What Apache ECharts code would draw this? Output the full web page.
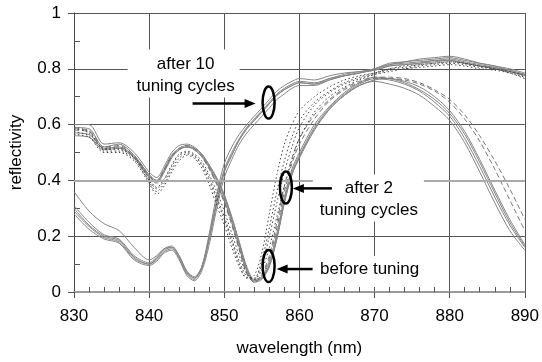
<!DOCTYPE html>
<html>
<head>
<meta charset="utf-8">
<script src="https://cdn.jsdelivr.net/npm/echarts@6/dist/echarts.min.js"></script>
<style>
  html, body { margin: 0; padding: 0; background: #fff; }
  #chart { width: 542px; height: 362px; }
</style>
</head>
<body>
<div id="chart"></div>
<script>
// wavelength samples (nm)
const wavelength = [830,832,834,836,838,840,841,842,843,844,845,846,847,848,849,850,851,852,853,854,855,856,857,858,859,860,862,864,866,868,870,872,874,876,878,880,882,884,886,888,890];

// after 10 tuning cycles (solid, blue-shifted)
const after10_1 = [0.36,0.29,0.245,0.22,0.16,0.115,0.13,0.155,0.16,0.13,0.075,0.05,0.085,0.19,0.32,0.43,0.49,0.545,0.585,0.615,0.645,0.675,0.705,0.725,0.74,0.75,0.745,0.765,0.775,0.785,0.80,0.815,0.825,0.83,0.835,0.84,0.83,0.82,0.81,0.795,0.78];
const after10_2 = [0.31,0.25,0.205,0.19,0.13,0.105,0.125,0.155,0.165,0.13,0.075,0.055,0.09,0.2,0.33,0.44,0.5,0.55,0.59,0.62,0.65,0.68,0.71,0.73,0.745,0.755,0.75,0.765,0.78,0.79,0.80,0.815,0.82,0.825,0.83,0.835,0.825,0.815,0.805,0.795,0.78];
const after10_3 = [0.30,0.24,0.20,0.185,0.125,0.10,0.12,0.15,0.16,0.125,0.07,0.05,0.09,0.21,0.35,0.46,0.52,0.565,0.60,0.63,0.66,0.69,0.72,0.74,0.755,0.765,0.76,0.775,0.785,0.79,0.795,0.81,0.815,0.82,0.83,0.83,0.82,0.81,0.805,0.79,0.775];
const after10_4 = [0.29,0.235,0.195,0.18,0.12,0.10,0.115,0.145,0.155,0.12,0.065,0.045,0.085,0.19,0.32,0.43,0.49,0.545,0.585,0.615,0.645,0.675,0.705,0.725,0.74,0.75,0.745,0.76,0.775,0.785,0.80,0.82,0.825,0.835,0.84,0.845,0.835,0.82,0.81,0.80,0.785];
const after10_5 = [0.28,0.225,0.19,0.175,0.115,0.095,0.11,0.14,0.15,0.115,0.06,0.04,0.075,0.17,0.30,0.41,0.475,0.53,0.57,0.60,0.63,0.66,0.69,0.71,0.73,0.74,0.74,0.76,0.775,0.785,0.795,0.81,0.815,0.82,0.825,0.83,0.82,0.81,0.80,0.79,0.78];

// dotted runs
const dotted_1 = [0.59,0.575,0.515,0.515,0.485,0.405,0.375,0.405,0.455,0.495,0.505,0.495,0.47,0.42,0.36,0.29,0.21,0.13,0.065,0.045,0.08,0.16,0.27,0.38,0.47,0.55,0.645,0.70,0.735,0.76,0.78,0.795,0.80,0.81,0.815,0.82,0.815,0.805,0.80,0.79,0.775];
const dotted_2 = [0.585,0.57,0.51,0.51,0.48,0.40,0.37,0.40,0.45,0.49,0.50,0.49,0.46,0.41,0.34,0.27,0.19,0.11,0.055,0.045,0.10,0.20,0.32,0.43,0.52,0.59,0.67,0.715,0.745,0.765,0.78,0.79,0.80,0.805,0.81,0.815,0.81,0.80,0.795,0.785,0.77];
const dotted_3 = [0.575,0.56,0.505,0.505,0.475,0.395,0.36,0.39,0.44,0.48,0.495,0.485,0.455,0.40,0.33,0.26,0.18,0.10,0.05,0.05,0.115,0.23,0.36,0.47,0.555,0.615,0.68,0.72,0.75,0.77,0.785,0.80,0.805,0.815,0.82,0.825,0.82,0.81,0.80,0.785,0.765];
const dotted_4 = [0.565,0.555,0.50,0.50,0.47,0.39,0.35,0.38,0.43,0.47,0.49,0.48,0.445,0.385,0.31,0.24,0.16,0.09,0.05,0.06,0.14,0.28,0.42,0.53,0.60,0.65,0.70,0.735,0.76,0.775,0.785,0.80,0.81,0.815,0.82,0.825,0.82,0.81,0.80,0.79,0.775];

// solid runs falling off past 870 nm
const solid_1 = [0.60,0.60,0.53,0.535,0.50,0.43,0.41,0.45,0.50,0.525,0.53,0.52,0.495,0.455,0.405,0.345,0.265,0.175,0.085,0.04,0.05,0.095,0.19,0.32,0.42,0.48,0.58,0.655,0.705,0.74,0.76,0.765,0.755,0.735,0.70,0.65,0.575,0.475,0.365,0.26,0.17];
const solid_2 = [0.59,0.585,0.52,0.53,0.49,0.42,0.40,0.44,0.49,0.515,0.525,0.515,0.49,0.45,0.40,0.34,0.26,0.17,0.08,0.04,0.05,0.10,0.20,0.33,0.43,0.49,0.59,0.66,0.71,0.745,0.765,0.76,0.745,0.72,0.68,0.63,0.55,0.45,0.34,0.24,0.16];
const solid_3 = [0.57,0.565,0.515,0.52,0.485,0.415,0.395,0.435,0.485,0.51,0.52,0.51,0.485,0.445,0.39,0.33,0.25,0.16,0.075,0.035,0.045,0.09,0.19,0.32,0.42,0.485,0.585,0.655,0.705,0.74,0.755,0.745,0.73,0.705,0.665,0.615,0.535,0.43,0.32,0.22,0.15];
const solid_4 = [0.56,0.555,0.51,0.515,0.48,0.41,0.39,0.43,0.48,0.51,0.52,0.515,0.495,0.455,0.41,0.35,0.27,0.18,0.09,0.045,0.055,0.11,0.21,0.34,0.44,0.50,0.60,0.665,0.715,0.75,0.77,0.765,0.75,0.725,0.69,0.64,0.565,0.465,0.355,0.25,0.165];

// dashed runs
const dashed_1 = [0.585,0.58,0.52,0.525,0.49,0.42,0.40,0.44,0.49,0.515,0.525,0.515,0.49,0.445,0.39,0.325,0.245,0.155,0.07,0.035,0.06,0.12,0.23,0.36,0.46,0.53,0.62,0.685,0.725,0.75,0.765,0.765,0.76,0.745,0.72,0.68,0.62,0.54,0.44,0.33,0.22];
const dashed_2 = [0.58,0.575,0.515,0.52,0.485,0.415,0.395,0.435,0.485,0.51,0.52,0.51,0.485,0.44,0.385,0.32,0.24,0.15,0.065,0.035,0.065,0.13,0.25,0.38,0.48,0.55,0.635,0.69,0.73,0.755,0.77,0.77,0.765,0.75,0.725,0.69,0.635,0.56,0.47,0.37,0.26];

// axis ticks
const xTicks = [830, 840, 850, 860, 870, 880, 890];
const yTicks = [0, 0.2, 0.4, 0.6, 0.8, 1];
const greyGridAt = 0.4;

const FONT = '"Liberation Sans", Arial, sans-serif';

function makeSeries(ys, color, type) {
    return {
        type: 'line',
        data: wavelength.map((w, i) => [w, ys[i]]),
        showSymbol: false,
        smooth: 0.3,
        silent: true,
        lineStyle: { color: color, width: 1, type: type }
    };
}

const series = [];
[after10_1, after10_2, after10_3, after10_4, after10_5].forEach(d => series.push(makeSeries(d, '#858585', 'solid')));
[solid_1, solid_2, solid_3, solid_4].forEach(d => series.push(makeSeries(d, '#858585', 'solid')));
[dashed_1, dashed_2].forEach(d => series.push(makeSeries(d, '#777', [5, 3])));
[dotted_1, dotted_2, dotted_3, dotted_4].forEach(d => series.push(makeSeries(d, '#444', [1.5, 2.5])));

// light grey grid line drawn under the curves
series[0].markLine = {
    silent: true,
    symbol: 'none',
    label: { show: false },
    lineStyle: { color: '#aaa', width: 2, type: 'solid' },
    data: [{ yAxis: greyGridAt }]
};

var option = {
    animation: false,
    grid: { left: 72, right: 14, top: 13, bottom: 69 },
    xAxis: {
        type: 'value',
        min: xTicks[0],
        max: xTicks[xTicks.length - 1],
        interval: 10,
        name: 'wavelength (nm)',
        nameLocation: 'middle',
        nameGap: 48,
        nameTextStyle: { fontSize: 17, fontFamily: FONT, color: '#000' },
        axisLine: { lineStyle: { color: '#9a9a9a', width: 2 } },
        axisTick: { show: true, length: 6, lineStyle: { color: '#555' } },
        minorTick: { show: true, splitNumber: 5, length: -5, lineStyle: { color: '#555' } },
        axisLabel: { fontSize: 17, fontFamily: FONT, color: '#000', margin: 16 },
        splitLine: { show: true, lineStyle: { color: '#555', width: 1 } }
    },
    yAxis: {
        type: 'value',
        min: yTicks[0],
        max: yTicks[yTicks.length - 1],
        interval: 0.2,
        name: 'reflectivity',
        nameLocation: 'middle',
        nameGap: 49,
        nameTextStyle: { fontSize: 17, fontFamily: FONT, color: '#000' },
        axisLine: { show: true, lineStyle: { color: '#444', width: 1 } },
        axisTick: { show: true, length: 6, lineStyle: { color: '#555' } },
        minorTick: { show: true, splitNumber: 2, length: -6, lineStyle: { color: '#555' } },
        axisLabel: { fontSize: 17, fontFamily: FONT, color: '#000', margin: 13 },
        splitLine: { show: true, lineStyle: { color: '#555', width: 1 } }
    },
    series: series
};

// annotation anchors (ellipse centres, data coords)
const notes = [
    { at: [855.9, 0.679], label: 'after 10\ntuning cycles' },
    { at: [858.2, 0.375], label: 'after 2\ntuning cycles' },
    { at: [855.9, 0.093], label: 'before tuning' }
];

const chart = echarts.init(document.getElementById('chart'));
chart.setOption(option);

function arrow(x1, y1, x2, y2) {
    // line from (x1,y1) to tip (x2,y2)
    const dir = x2 > x1 ? 1 : -1;
    return [
        { type: 'line', z: 100, shape: { x1: x1, y1: y1, x2: x2 - dir * 9, y2: y2 }, style: { stroke: '#000', lineWidth: 2.5 } },
        { type: 'polygon', z: 100, shape: { points: [[x2, y2], [x2 - dir * 11, y2 - 4.5], [x2 - dir * 11, y2 + 4.5]] }, style: { fill: '#000' } }
    ];
}

const graphics = [];
notes.forEach((n, k) => {
    const p = chart.convertToPixel({ gridIndex: 0 }, n.at);
    const cx = p[0], cy = p[1];
    let box, tx, ty, a;
    if (k === 0) {
        box = [cx - 141, cy - 53, 112, 48];
        tx = cx - 83; ty = cy - 27;
        a = [cx - 76, cy + 1, cx - 13, cy + 1];
    } else if (k === 1) {
        box = [cx + 27, cy - 13, 111, 47];
        tx = cx + 83; ty = cy + 12;
        a = [cx + 46, cy + 1, cx + 7, cy + 1];
    } else {
        box = [cx + 44, cy - 10, 111, 31];
        tx = cx + 101; ty = cy + 3;
        a = [cx + 44, cy + 3, cx + 8, cy + 3];
    }
    graphics.push({ type: 'rect', z: 90, shape: { x: box[0], y: box[1], width: box[2], height: box[3] }, style: { fill: '#fff' } });
    graphics.push({
        type: 'text', z: 100, x: tx, y: ty,
        style: { text: n.label, fill: '#000', fontSize: 17, fontFamily: FONT, align: 'center', verticalAlign: 'middle', lineHeight: 22 }
    });
    graphics.push({ type: 'ellipse', z: 100, shape: { cx: cx, cy: cy, rx: 6, ry: 16 }, style: { fill: 'none', stroke: '#000', lineWidth: 2.5 } });
    arrow(a[0], a[1], a[2], a[3]).forEach(g => graphics.push(g));
});

chart.setOption({ graphic: graphics });
</script>
</body>
</html>
